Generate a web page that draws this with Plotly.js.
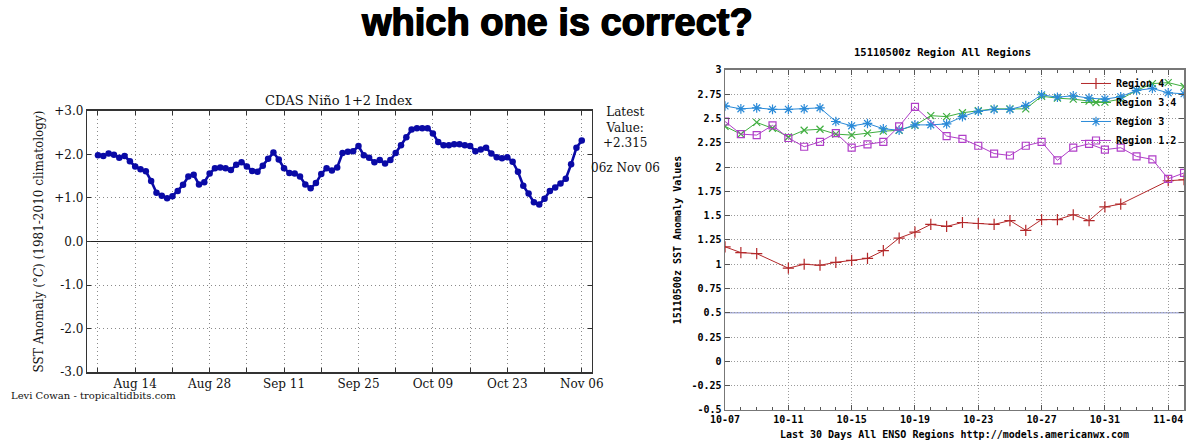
<!DOCTYPE html>
<html><head><meta charset="utf-8">
<script src="https://cdn.plot.ly/plotly-3.0.1.min.js"></script>
<style>html,body{margin:0;padding:0;background:#fff}#chart{width:1200px;height:445px}</style>
</head><body><div id="chart"></div>
<script>
// ---------- Left chart: CDAS Niño 1+2 daily index ----------
const ninoDates = [
 '2015-08-07','2015-08-08','2015-08-09','2015-08-10','2015-08-11','2015-08-12','2015-08-13','2015-08-14','2015-08-15','2015-08-16',
 '2015-08-17','2015-08-18','2015-08-19','2015-08-20','2015-08-21','2015-08-22','2015-08-23','2015-08-24','2015-08-25','2015-08-26',
 '2015-08-27','2015-08-28','2015-08-29','2015-08-30','2015-08-31',
 '2015-09-01','2015-09-02','2015-09-03','2015-09-04','2015-09-05','2015-09-06','2015-09-07','2015-09-08','2015-09-09','2015-09-10',
 '2015-09-11','2015-09-12','2015-09-13','2015-09-14','2015-09-15','2015-09-16','2015-09-17','2015-09-18','2015-09-19','2015-09-20',
 '2015-09-21','2015-09-22','2015-09-23','2015-09-24','2015-09-25','2015-09-26','2015-09-27','2015-09-28','2015-09-29','2015-09-30',
 '2015-10-01','2015-10-02','2015-10-03','2015-10-04','2015-10-05','2015-10-06','2015-10-07','2015-10-08','2015-10-09','2015-10-10',
 '2015-10-11','2015-10-12','2015-10-13','2015-10-14','2015-10-15','2015-10-16','2015-10-17','2015-10-18','2015-10-19','2015-10-20',
 '2015-10-21','2015-10-22','2015-10-23','2015-10-24','2015-10-25','2015-10-26','2015-10-27','2015-10-28','2015-10-29','2015-10-30',
 '2015-10-31','2015-11-01','2015-11-02','2015-11-03','2015-11-04','2015-11-05','2015-11-06'
];
const ninoValues = [
 1.98,1.96,2.02,1.99,1.92,1.96,1.84,1.72,1.66,1.61,
 1.39,1.12,1.05,0.99,1.04,1.16,1.30,1.49,1.53,1.31,
 1.36,1.56,1.68,1.70,1.68,1.64,1.76,1.82,1.72,1.62,
 1.60,1.74,1.90,2.04,1.88,1.68,1.57,1.56,1.49,1.31,
 1.22,1.34,1.55,1.68,1.63,1.70,2.03,2.06,2.07,2.19,
 1.98,1.92,1.82,1.87,1.79,1.87,2.03,2.21,2.39,2.57,
 2.60,2.60,2.60,2.48,2.28,2.21,2.21,2.23,2.23,2.21,
 2.19,2.07,2.11,2.15,2.02,1.93,1.91,1.93,1.83,1.60,
 1.28,1.10,0.90,0.85,0.98,1.16,1.24,1.33,1.44,1.77,
 2.15,2.315
];
const ninoTickDates = ['2015-08-07','2015-08-14','2015-08-21','2015-08-28','2015-09-04','2015-09-11','2015-09-18',
 '2015-09-25','2015-10-02','2015-10-09','2015-10-16','2015-10-23','2015-10-30','2015-11-06'];
const ninoTickLabels = ['','Aug 14','','Aug 28','','Sep 11','','Sep 25','','Oct 09','','Oct 23','','Nov 06'];
const ninoYTicks = [3,2,1,0,-1,-2,-3];
const ninoYLabels = ['+3.0','+2.0','+1.0','0.0','-1.0','-2.0','-3.0'];
const latestValueText = '+2.315';

// ---------- Right chart: americanwx ENSO regions, last 30 days ----------
const regionDates = [
 '2015-10-07','2015-10-08','2015-10-09','2015-10-10','2015-10-11','2015-10-12','2015-10-13','2015-10-14','2015-10-15','2015-10-16',
 '2015-10-17','2015-10-18','2015-10-19','2015-10-20','2015-10-21','2015-10-22','2015-10-23','2015-10-24','2015-10-25','2015-10-26',
 '2015-10-27','2015-10-28','2015-10-29','2015-10-30','2015-10-31','2015-11-01','2015-11-02','2015-11-03','2015-11-04','2015-11-05'
];
const region4 = [1.18,1.12,1.11,null,0.96,1.00,0.99,1.02,1.04,1.06,
 1.14,1.27,1.33,1.41,1.39,1.43,1.42,1.41,1.45,1.35,
 1.46,1.46,1.51,1.45,1.59,1.62,null,null,1.86,1.87];
const region34 = [2.42,2.34,2.46,2.40,2.31,2.38,2.39,2.34,2.33,2.35,
 2.37,2.38,2.43,2.53,2.52,2.56,2.58,2.60,2.60,2.60,
 2.73,2.71,2.70,2.68,2.67,2.70,2.79,2.86,2.87,2.83];
const region3 = [2.63,2.60,2.61,2.595,2.595,2.60,2.61,2.47,2.425,2.45,
 2.395,2.38,2.435,2.435,2.445,2.52,2.575,2.595,2.595,2.635,
 2.745,2.72,2.735,2.71,2.70,2.725,2.79,2.81,2.765,2.755];
const region12 = [2.47,2.34,2.33,2.43,2.30,2.21,2.26,2.35,2.20,2.235,
 2.26,2.42,2.62,null,2.32,2.29,2.22,2.14,2.12,2.22,
 2.26,2.07,2.20,2.24,2.18,2.20,2.11,2.08,1.88,1.94];
const regionNames = ['Region 4','Region 3.4','Region 3','Region 1.2'];
const regionXTicks = ['2015-10-07','2015-10-11','2015-10-15','2015-10-19','2015-10-23','2015-10-27','2015-10-31','2015-11-04'];
const regionXLabels = ['10-07','10-11','10-15','10-19','10-23','10-27','10-31','11-04'];
const regionYTicks = [3,2.75,2.5,2.25,2,1.75,1.5,1.25,1,0.75,0.5,0.25,0,-0.25,-0.5];
const regionYLabels = ['3','2.75','2.5','2.25','2','1.75','1.5','1.25','1','0.75','0.5','0.25','0','-0.25','-0.5'];
const referenceLevel = 0.5;

const serif = 'DejaVu Serif, serif';
const mono = 'DejaVu Sans Mono, monospace';
const monoFont = (s) => ({family: mono, size: s, color: '#000', weight: 'bold'});

const traces = [
 {x: ninoDates, y: ninoValues, xaxis: 'x', yaxis: 'y', type: 'scatter', mode: 'lines+markers',
  line: {color: '#0a0aa6', width: 2.6}, marker: {color: '#0a0aa6', size: 6.5}, showlegend: false},
 {x: regionDates, y: region4, xaxis: 'x2', yaxis: 'y2', name: regionNames[0], mode: 'lines+markers', connectgaps: true,
  line: {color: '#b3282a', width: 1}, marker: {symbol: 'cross-thin-open', size: 8, color: '#b3282a', line: {width: 1.2, color: '#b3282a'}}},
 {x: regionDates, y: region34, xaxis: 'x2', yaxis: 'y2', name: regionNames[1], mode: 'lines+markers', connectgaps: true,
  line: {color: '#3fae3f', width: 1}, marker: {symbol: 'x-thin-open', size: 7, color: '#3fae3f', line: {width: 1.2, color: '#3fae3f'}}},
 {x: regionDates, y: region3, xaxis: 'x2', yaxis: 'y2', name: regionNames[2], mode: 'lines+markers', connectgaps: true,
  line: {color: '#2a8ad8', width: 1}, marker: {symbol: 'asterisk-open', size: 8, color: '#2a8ad8', line: {width: 1.2, color: '#2a8ad8'}}},
 {x: regionDates, y: region12, xaxis: 'x2', yaxis: 'y2', name: regionNames[3], mode: 'lines+markers', connectgaps: true,
  line: {color: '#b03ec8', width: 1}, marker: {symbol: 'square-open', size: 7, color: '#b03ec8', line: {width: 1.2, color: '#b03ec8'}}}
];

const ann = (text, x, y, font, extra) => Object.assign({text, xref: 'paper', yref: 'paper', x, y,
  xanchor: 'center', yanchor: 'middle', showarrow: false, font}, extra || {});

const layout = {
 width: 1200, height: 445,
 margin: {l: 0, r: 0, t: 0, b: 0},
 paper_bgcolor: '#fff', plot_bgcolor: '#fff',
 showlegend: true,
 legend: {x: 0.985, xanchor: 'right', y: 0.845, yanchor: 'top', bgcolor: 'rgba(0,0,0,0)',
  font: monoFont(10), tracegroupgap: 0, itemwidth: 30},
 xaxis: {domain: [0.0728, 0.4931], anchor: 'y', type: 'date',
  range: ['2015-08-05', '2015-11-07 21:00'],
  tickmode: 'array', tickvals: ninoTickDates, ticktext: ninoTickLabels,
  showgrid: true, gridcolor: '#8a8a8a', griddash: '1px,3px', gridwidth: 1,
  showline: true, linecolor: '#333', linewidth: 1.5, mirror: 'allticks',
  ticks: 'inside', ticklen: 4, tickcolor: '#333',
  tickfont: {family: serif, size: 12, color: '#111'}, zeroline: false},
 yaxis: {domain: [0.1634, 0.7512], anchor: 'x', range: [-3, 3],
  tickmode: 'array', tickvals: ninoYTicks, ticktext: ninoYLabels,
  showgrid: true, gridcolor: '#8a8a8a', griddash: '1px,3px', gridwidth: 1,
  zeroline: true, zerolinecolor: '#222', zerolinewidth: 1.2,
  showline: true, linecolor: '#333', linewidth: 1.5, mirror: 'allticks',
  ticks: 'inside', ticklen: 4, tickcolor: '#333',
  tickfont: {family: serif, size: 12, color: '#111'},
  title: {text: 'SST Anomaly (°<i>C</i>) (1981-2010 climatology)', font: {family: serif, size: 12, color: '#111'}, standoff: 8}},
 xaxis2: {domain: [0.6042, 0.9867], anchor: 'y2', type: 'date',
  range: ['2015-10-07', '2015-11-05'],
  tickmode: 'array', tickvals: regionXTicks, ticktext: regionXLabels,
  showgrid: true, gridcolor: '#9a9a9a', griddash: '1px,2px', gridwidth: 1,
  showline: true, linecolor: '#777', linewidth: 1.5, mirror: 'allticks',
  ticks: 'inside', ticklen: 5, tickcolor: '#555',
  minor: {dtick: 86400000, tick0: '2015-10-07', ticks: 'inside', ticklen: 3, tickcolor: '#555', showgrid: false},
  tickfont: monoFont(10), zeroline: false,
  title: {text: 'Last 30 Days All ENSO Regions http://models.americanwx.com', font: monoFont(10), standoff: 6}},
 yaxis2: {domain: [0.0787, 0.8427], anchor: 'x2', range: [-0.5, 3],
  tickmode: 'array', tickvals: regionYTicks, ticktext: regionYLabels,
  showgrid: true, gridcolor: '#9a9a9a', griddash: '1px,2px', gridwidth: 1,
  showline: true, linecolor: '#777', linewidth: 1.5, mirror: 'allticks',
  ticks: 'inside', ticklen: 5, tickcolor: '#555', zeroline: false,
  tickfont: monoFont(10),
  title: {text: '15110500z SST Anomaly Values', font: monoFont(10), standoff: 8}},
 shapes: [
  {type: 'line', xref: 'x2 domain', yref: 'y2', x0: 0, x1: 1, y0: referenceLevel, y1: referenceLevel,
   line: {color: '#aab0dc', width: 1.5}, layer: 'below'}
 ],
 annotations: [
  ann('<b>which one is correct?</b>', 0.464, 0.951,
   {family: 'Liberation Sans, Arial, sans-serif', size: 38, color: '#000', weight: 900,
    shadow: '0.7px 0 0 #000, -0.7px 0 0 #000, 0 0.5px 0 #000'}),
  ann('CDAS Niño 1+2 Index', 0.2825, 0.775, {family: serif, size: 13, color: '#111'}),
  ann('Latest<br>Value:<br>' + latestValueText, 0.521, 0.7124, {family: serif, size: 12, color: '#111'}, {align: 'center'}),
  ann('06z Nov 06', 0.521, 0.623, {family: serif, size: 12, color: '#111'}),
  ann('Levi Cowan - tropicaltidbits.com', 0.0075, 0.112, {family: serif, size: 10, color: '#111'}, {xanchor: 'left'}),
  ann('15110500z Region All Regions', 0.785, 0.883, monoFont(10.5))
 ]
};

Plotly.newPlot('chart', traces, layout, {displayModeBar: false, staticPlot: true});
</script></body></html>
